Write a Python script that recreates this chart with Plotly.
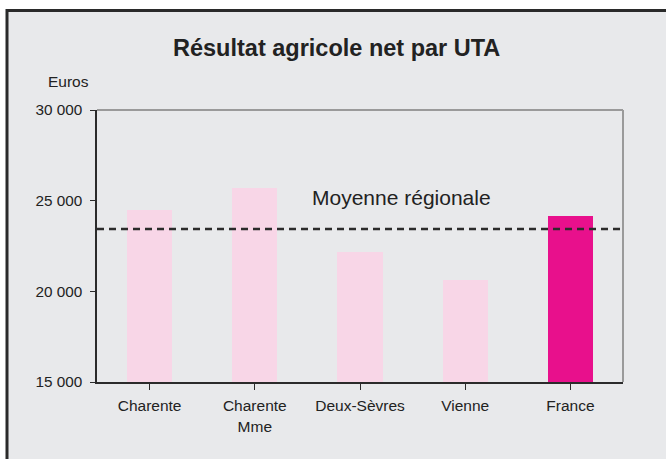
import plotly.graph_objects as go

categories = ["Charente", "Charente<br>Mme", "Deux-Sèvres", "Vienne", "France"]
values = [24500, 25700, 22150, 20600, 24170]
bar_colors = ["#f8d6e7", "#f8d6e7", "#f8d6e7", "#f8d6e7", "#e8108c"]
moyenne_regionale = 23440
y_ticks = [15000, 20000, 25000, 30000]

W, H = 666, 459
L, R, T, B = 97, 43, 110, 77
pw, ph = W - L - R, H - T - B

def px_x(p):
    return (p - L) / pw

def px_y(p):
    return (H - B - p) / ph

fig = go.Figure()
fig.add_trace(go.Bar(
    x=list(range(len(categories))), y=values,
    marker=dict(color=bar_colors, line=dict(width=0)),
    width=0.43,
))

shapes = [
    # outer gray frame
    dict(type="rect", xref="paper", yref="paper",
         x0=px_x(7), x1=px_x(690), y0=px_y(490), y1=px_y(10.5),
         fillcolor="#e8e9eb", line=dict(color="#2a2a2a", width=3), layer="below"),
    # plot area top / right border
    dict(type="line", xref="paper", yref="paper", x0=0, x1=1, y0=1, y1=1,
         line=dict(color="#9a9a9a", width=2)),
    dict(type="line", xref="paper", yref="paper", x0=1, x1=1, y0=0, y1=1,
         line=dict(color="#9a9a9a", width=2)),
    # regional average
    dict(type="line", xref="paper", yref="y", x0=0, x1=1,
         y0=moyenne_regionale, y1=moyenne_regionale,
         line=dict(color="#2b2b2b", width=2.5, dash="7px,5px")),
]

annotations = [
    dict(text="<b>Résultat agricole net par UTA</b>", xref="paper", yref="paper",
         x=px_x(336), y=px_y(48), showarrow=False, xanchor="center", yanchor="middle",
         font=dict(size=23.5, color="#222222")),
    dict(text="Euros", xref="paper", yref="paper", x=px_x(68.5), y=px_y(81.5),
         showarrow=False, xanchor="center", yanchor="middle",
         font=dict(size=15.5, color="#222222")),
    dict(text="Moyenne régionale", xref="paper", yref="y", x=px_x(310),
         y=moyenne_regionale, yshift=31, showarrow=False, xanchor="left", yanchor="middle",
         font=dict(size=21, color="#222222")),
]

fig.update_layout(
    width=W, height=H,
    margin=dict(l=L, r=R, t=T, b=B, pad=0),
    paper_bgcolor="white", plot_bgcolor="white",
    showlegend=False, separators=", ",
    font=dict(family="Liberation Sans, Arial, sans-serif", color="#222222", size=15),
    shapes=shapes, annotations=annotations,
    bargap=0,
    xaxis=dict(
        range=[-0.5, len(categories) - 0.5], tickmode="array",
        tickvals=list(range(len(categories))), ticktext=categories,
        tickson="boundaries", ticks="outside", ticklen=6, tickcolor="#2b2b2b",
        showline=True, linecolor="#2b2b2b", linewidth=1.5,
        showgrid=False, zeroline=False, fixedrange=True,
        ticklabelstandoff=3,
        tickfont=dict(size=15.5, color="#222222"),
    ),
    yaxis=dict(
        range=[15000, 30000], tickmode="array", tickvals=y_ticks,
        tickformat=",d", ticks="outside", ticklen=5, tickcolor="#2b2b2b",
        showline=True, linecolor="#2b2b2b", linewidth=1.5,
        showgrid=False, zeroline=False, fixedrange=True,
        ticklabelstandoff=5,
        tickfont=dict(size=15.3, color="#222222"),
    ),
)

fig.write_html("out.html")
